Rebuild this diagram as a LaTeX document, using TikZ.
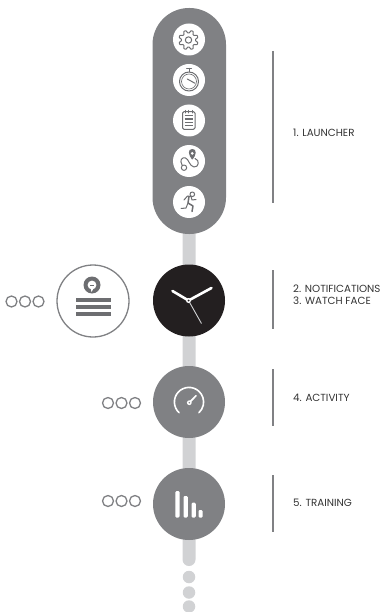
\documentclass[tikz,border=0pt]{standalone}
\usepackage{fontspec}
\setmainfont{Poppins}
\definecolor{pillgray}{HTML}{808184}
\definecolor{stripgray}{HTML}{D1D2D4}
\definecolor{watchblack}{HTML}{231F20}
\definecolor{inkgray}{HTML}{6D6E71}
\tikzset{
  hub/.style={circle,minimum size=72pt,inner sep=0pt,fill=pillgray},
  iconcirc/.style={circle,minimum size=32pt,inner sep=0pt,fill=white},
  pagedot/.style={circle,minimum size=11pt,inner sep=0pt,draw=pillgray,line width=1.3pt,fill=white},
  more/.style={circle,minimum size=12.5pt,inner sep=0pt,fill=stripgray},
  note/.style={anchor=west,inner sep=0pt,font=\fontsize{10.3}{12.5}\selectfont,text=black!80,align=left},
  rulebar/.style={draw=pillgray,line width=2pt},
  ink/.style={draw=inkgray,line width=1pt,fill=none,line cap=round,line join=round},
  wline/.style={draw=white,line cap=round}
}
\begin{document}
\begin{tikzpicture}[x=1pt,y=-1pt]
\useasboundingbox (0,0) rectangle (383,612);
% strip
\fill[stripgray,rounded corners=6.5pt] (182.5,225) rectangle (195.5,566);
\foreach \n/\y in {a/577,b/592.5,c/606.5}{\node[more] (m\n) at (189,\y) {};}
% pill
\fill[pillgray,rounded corners=36.5pt] (152.5,8) rectangle (226,234);
\foreach \n/\y in {one/39.5,two/80,three/120.5,four/161,five/202}{\node[iconcirc] (\n) at (189,\y) {};}
% gear
\begin{scope}[shift={(one.center)}]
\draw[ink] (-.5,0.5) circle (3.2);
\draw[ink,shift={(-.5,0.5)}] plot[domain=0:360,samples=97] (\x+22.5:{8.4+1.3*max(-1,min(1,1.6*cos(8*\x)))}) -- cycle;
\end{scope}
% stopwatch
\begin{scope}[shift={(two.center)}]
\draw[ink] (0,1.5) circle (9.5);
\draw[inkgray,line width=.6pt] (0,1.5) circle (7.5);
\draw[ink] (-2.5,-11.7) -- (2.5,-11.7) (0,-11.7) -- (0,-8);
\draw[ink] (-1.7,-1) -- (6,3.3);
\end{scope}
% clipboard
\begin{scope}[shift={(three.center)}]
\draw[ink,rounded corners=1.5pt] (-6.5,-8.8) rectangle (6,8.8);
\draw[ink] (-3.5,-10) -- (-3.5,-7.5) (-.25,-10) -- (-.25,-7.5) (3,-10) -- (3,-7.5);
\draw[inkgray,line width=1.2pt] (-4.3,-4.8) -- (3.8,-4.8) (-4.3,-1.4) -- (3.8,-1.4) (-4.3,2) -- (3.8,2) (-4.3,5.4) -- (3.8,5.4);
\end{scope}
% route
\begin{scope}[shift={(four.center)}]
\draw[ink] (-5,6.7) circle (2.7);
\draw[ink] (-6.7,4.5) .. controls (-10,-1) and (-7,-4) .. (-3.5,-3) .. controls (0,-2) and (0,5) .. (5,6) .. controls (10,6.5) and (11,-1) .. (6,-2.5);
\draw[ink,fill=inkgray] (3.3,-2) .. controls (0,-6) and (-1,-11.5) .. (3.3,-11.5) .. controls (7.6,-11.5) and (6.6,-6) .. (3.3,-2) -- cycle;
\fill[white] (3.3,-7.6) circle (1.5);
\end{scope}
% runner
\begin{scope}[shift={(five.center)}]
\draw[ink] (3.3,-7.7) circle (2.3);
\draw[ink] (-5,-2) -- (-1.5,-6) -- (2,-5.5) -- (3,-2) -- (7,-2.5);
\draw[inkgray,line width=1.5pt,line cap=round,line join=round] (0,-5.5) -- (-1,1) -- (4,4) -- (3,9.5);
\draw[ink] (-1,1) -- (-3,6) -- (-8,6.5);
\end{scope}
% watch
\node[circle,minimum size=72pt,inner sep=0pt,fill=watchblack] (watch) at (189,300.5) {};
\begin{scope}[shift={(188.5,300.5)}]
\draw[white,line width=2.6pt,line cap=round] (0,0) -- (-16,-9.5);
\draw[white,line width=2.6pt,line cap=round] (0,0) -- (23,-12.5);
\draw[stripgray,line width=.9pt] (0,0) -- (13,23);
\fill[white] (0,0) circle (2.5);
\fill[watchblack] (0,0) circle (1);
\end{scope}
% notification
\node[circle,minimum size=72pt,inner sep=0pt,draw=pillgray,line width=1.3pt,fill=white] (notif) at (93,301) {};
\begin{scope}[shift={(notif.center)}]
\fill[inkgray] (-1,-16) circle (8.5);
\fill[white] (-1,-16) circle (4.4);
\fill[white] (-2.2,-12.2) -- (.5,-12.5) -- (-1.5,-9) -- cycle;
\draw[inkgray,line width=.9pt] (-3,-16) -- (1,-16);
\fill[inkgray] (-17.5,-2.9) rectangle (17.5,.7);
\fill[inkgray] (-17.5,4) rectangle (17.5,8);
\fill[inkgray] (-17.5,10.7) rectangle (17.5,14.7);
\end{scope}
% activity, training
\node[hub] (act) at (189,402) {};
\node[hub] (train) at (189,504) {};
\begin{scope}[shift={(act.center)}]
\draw[wline,line width=1.6pt] (133:14.6) arc[start angle=133,end angle=407,radius=14.6];
\fill[white] (0.3,0.7) circle (2.4);
\draw[wline,line width=1.7pt] (0.3,0.7) -- (7,-6.3);
\fill[pillgray] (0.3,0.7) circle (.8);
\end{scope}
\begin{scope}[shift={(train.center)}]
\fill[white,rounded corners=1.2pt] (-13.7,-13) rectangle (-9.4,13.5);
\fill[white,rounded corners=1.2pt] (-5.5,-8) rectangle (-1.2,13.5);
\fill[white,rounded corners=1.2pt] (2.5,-1.3) rectangle (6.8,13.5);
\fill[white,rounded corners=1.2pt] (9.5,6) rectangle (13.7,13.5);
\end{scope}
% page dots
\foreach \n/\x/\y in {pa/11.5/301.5,pb/25/301.5,pc/38.5/301.5,aa/108/403,ab/121.5/403,ac/135/403,ta/108/501,tb/121.5/501,tc/135/501}{\node[pagedot] (\n) at (\x,\y) {};}
% side rules
\foreach \a/\b in {51/203,270/329,369/426,475/532}{\draw[rulebar] (272.5,\a) -- (272.5,\b);}
% labels
\node[note] (l1) at (293,132.5) {1. LAUNCHER};
\node[note] (l2) at (293,294.5) {2. NOTIFICATIONS\\3. WATCH FACE};
\node[note] (l3) at (293,397.5) {4. ACTIVITY};
\node[note] (l4) at (293,502.5) {5. TRAINING};
\end{tikzpicture}
\end{document}
